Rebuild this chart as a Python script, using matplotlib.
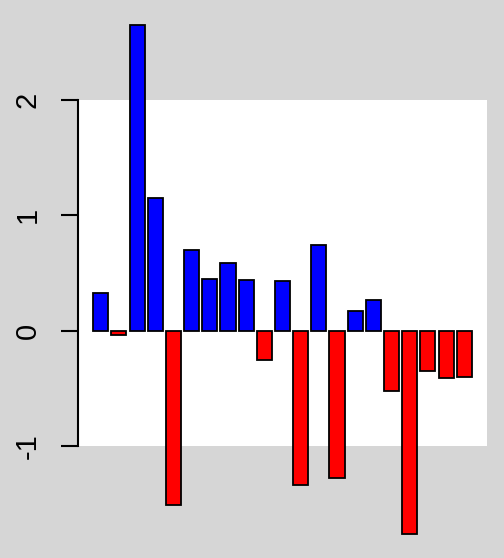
import matplotlib
matplotlib.use("Agg")
import matplotlib.pyplot as plt
import numpy as np

values = [0.33, -0.04, 2.65, 1.15, -1.51, 0.70, 0.45, 0.59, 0.44, -0.25,
          0.43, -1.34, 0.74, -1.28, 0.17, 0.27, -0.52, -1.76, -0.35, -0.41, -0.40]
yticks = [-1, 0, 1, 2]
ytick_labels = ["-1", "0", "1", "2"]
pos_color = "#0000FF"
neg_color = "#FF0000"

plt.rcParams['font.family'] = ['Liberation Sans', 'DejaVu Sans']

W, H = 504, 558
fig = plt.figure(figsize=(W / 100, H / 100), dpi=100)
fig.patch.set_facecolor("#D6D6D6")
left, right, top, bottom = 78, 487, 100, 446
ax = fig.add_axes([left / W, 1 - bottom / H, (right - left) / W, (bottom - top) / H])
ax.set_facecolor("white")

n = len(values)
space = 0.2
x = space + np.arange(n) * (1 + space) + 0.5
colors = [pos_color if v > 0 else neg_color for v in values]
bars = ax.bar(x, values, width=1.0, color=colors, edgecolor="black", linewidth=1.3)
for b in bars:
    b.set_clip_on(False)

xmin, xmax = space, n * (1 + space)
ext = 0.04 * (xmax - xmin)
ax.set_xlim(xmin - ext, xmax + ext)
ax.set_ylim(-1, 2)

for s in ["top", "right", "bottom"]:
    ax.spines[s].set_visible(False)
ax.spines["left"].set_linewidth(1.5)
ax.set_xticks([])
ax.set_yticks(yticks)
ax.set_yticklabels(ytick_labels, fontsize=21, rotation=90, va="center")
ax.tick_params(axis="y", direction="out", length=12, width=1.5, pad=14)

fig.savefig("out.png", dpi=100, facecolor=fig.get_facecolor())
